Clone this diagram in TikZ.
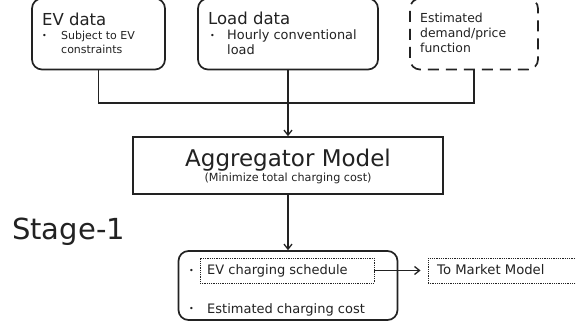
\documentclass[tikz,border=0pt]{standalone}
\usepackage{fontspec}
\setmainfont{DejaVu Sans}
\usetikzlibrary{arrows.meta}
\definecolor{ink}{HTML}{222222}
\tikzset{
  box/.style={draw=ink, line width=1.7pt, rounded corners=10pt, inner sep=0pt},
  dashbox/.style={box, dash pattern=on 11pt off 7pt},
  plainbox/.style={draw=ink, line width=1.7pt, inner sep=0pt},
  dotbox/.style={draw=ink, line width=0.9pt, dash pattern=on 1pt off 0.8pt, inner sep=0pt},
  txt/.style={anchor=base west, inner sep=0pt, text=ink},
  ctxt/.style={anchor=base, inner sep=0pt, text=ink},
  wire/.style={draw=ink, line width=1.3pt},
  arr/.style={wire, -{Straight Barb[length=5pt,width=8pt,line width=1.3pt]}},
  fs/.style={font=\fontsize{#1}{#1}\selectfont}
}
\begin{document}
\begin{tikzpicture}[x=1pt,y=-1pt]
\clip (0,0) rectangle (576,323);
\fill[white] (0,0) rectangle (576,323);

% input boxes
\node[box, minimum width=133pt, minimum height=71pt] (ev) at (98.5,34) {};
\node[box, minimum width=180pt, minimum height=71pt] (load) at (288,34) {};
\node[dashbox, minimum width=128pt, minimum height=71pt] (est) at (474,34) {};

\node[txt, fs=16.5] (evh) at (42,26) {EV data};
\node[txt, fs=8] (evb) at (42,39) {•};
\node[txt, fs=11] (evt1) at (61,40) {Subject to EV};
\node[txt, fs=11] (evt2) at (61,54) {constraints};

\node[txt, fs=16.5] (loadh) at (208,25) {Load data};
\node[txt, fs=8] (loadb) at (210,39) {•};
\node[txt, fs=12.9] (loadt1) at (227,40) {Hourly conventional};
\node[txt, fs=12.9] (loadt2) at (227,55) {load};

\node[txt, fs=12.4] (est1) at (420,23) {Estimated};
\node[txt, fs=12.4] (est2) at (420,38) {demand/price};
\node[txt, fs=12.4] (est3) at (420,53) {function};

% aggregator
\node[plainbox, minimum width=310pt, minimum height=57pt] (agg) at (288,165.5) {};
\node[ctxt, fs=23] (aggt) at (288,167) {Aggregator Model};
\node[ctxt, fs=11.2] (aggs) at (288,182) {(Minimize total charging cost)};

\node[txt, fs=29] (stage) at (12,240) {Stage-1};

% output box
\node[box, minimum width=219pt, minimum height=69pt] (res) at (288,285.5) {};
\node[dotbox, minimum width=174pt, minimum height=25pt] (sched) at (287,270.5) {};
\node[dotbox, minimum width=170pt, minimum height=25pt] (mkt) at (513,270.5) {};
\node[txt, fs=8] (resb1) at (189,274) {•};
\node[txt, fs=13] (rest1) at (207,275) {EV charging schedule};
\node[txt, fs=8] (resb2) at (189,312) {•};
\node[txt, fs=13] (rest2) at (207,313) {Estimated charging cost};
\node[txt, fs=13.2] (mktt) at (437,275) {To Market Model};

% connectors
\coordinate (hub) at (288,103);
\draw[wire] (ev.south) -- (ev.south |- hub) -- (est.south |- hub) -- (est.south);
\draw[arr] (load.south) -- (agg.north);
\draw[arr] (agg.south) -- (res.north);
\draw[arr, shorten >=7pt] (sched.east) -- (mkt.west);
\end{tikzpicture}
\end{document}
